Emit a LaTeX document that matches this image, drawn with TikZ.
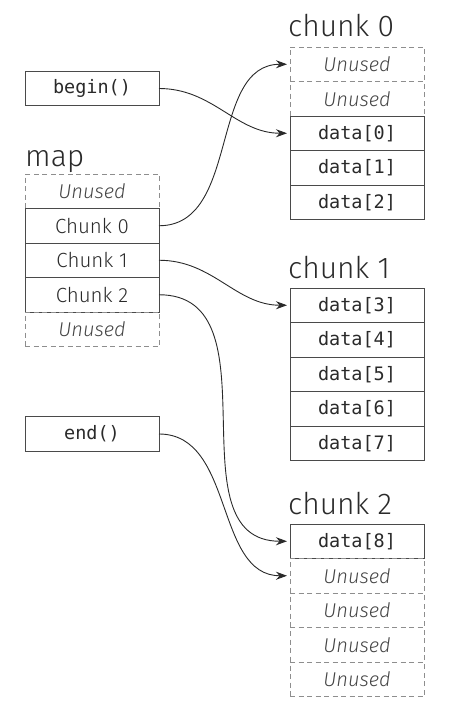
\documentclass[tikz,border=0pt]{standalone}
\usepackage{fontspec}
\setmainfont{Fira Sans}[UprightFont={* Light},ItalicFont={* Light Italic}]
\setmonofont{DejaVu Sans Mono}
\usepackage{xcolor}
\usetikzlibrary{positioning,arrows.meta}
\definecolor{ink}{HTML}{2A2A2A}
\definecolor{boxgray}{HTML}{4A4A4A}
\definecolor{dashgray}{HTML}{8E8E8E}
\definecolor{softgray}{HTML}{444444}

\begin{document}
\begin{tikzpicture}[x=1pt, y=-1pt,
    cell/.style={draw=boxgray, line width=0.9pt, minimum width=134pt, minimum height=34.5pt, inner sep=0pt, outer sep=0pt, text=ink},
    free/.style={cell, draw=dashgray, dash pattern=on 5pt off 3.5pt, text=softgray, font=\fontsize{20}{20}\selectfont\itshape},
    mem/.style={cell, font=\fontsize{18.5}{18.5}\selectfont\ttfamily},
    slot/.style={cell, font=\fontsize{20.5}{20.5}\selectfont},
    title/.style={anchor=base west, inner sep=0pt, text=ink, font=\fontsize{30}{30}\selectfont},
    ptr/.style={-{Stealth[length=11pt,width=8pt]}, line width=0.9pt, draw=ink, shorten >=3pt}]
    \useasboundingbox (0,0) rectangle (451,709);

    % iterators
    \node [mem] (B) at (92,88.5) {begin()};
    \node [mem] (E) at (92,434) {end()};

    % map
    \node [title] (M) at (25,166) {map};
    \node [free, anchor=north] (M0) at (92,174) {Unused};
    \node [slot, below=0pt of M0] (M1) {Chunk 0};
    \node [slot, below=0pt of M1] (M2) {Chunk 1};
    \node [slot, below=0pt of M2] (M3) {Chunk 2};
    \node [free, below=0pt of M3] (M4) {Unused};

    % chunk 0
    \node [title] (X) at (288,37) {chunk 0};
    \node [free, anchor=north] (X0) at (357,47) {Unused};
    \node [free, below=0pt of X0] (X1) {Unused};
    \node [mem, below=0pt of X1] (X2) {data[0]};
    \node [mem, below=0pt of X2] (X3) {data[1]};
    \node [mem, below=0pt of X3] (X4) {data[2]};

    % chunk 1
    \node [title] (Y) at (288,278) {chunk 1};
    \node [mem, anchor=north] (Y0) at (357,288) {data[3]};
    \node [mem, below=0pt of Y0] (Y1) {data[4]};
    \node [mem, below=0pt of Y1] (Y2) {data[5]};
    \node [mem, below=0pt of Y2] (Y3) {data[6]};
    \node [mem, below=0pt of Y3] (Y4) {data[7]};

    % chunk 2
    \node [title] (Z) at (288,514) {chunk 2};
    \node [mem, anchor=north] (Z0) at (357,524) {data[8]};
    \node [free, below=0pt of Z0] (Z1) {Unused};
    \node [free, below=0pt of Z1] (Z2) {Unused};
    \node [free, below=0pt of Z2] (Z3) {Unused};
    \node [free, below=0pt of Z3] (Z4) {Unused};

    \draw [ptr] (B) to[out=0,in=180] (X2);
    \draw [ptr] (M1) to[out=0,in=180] (X0);
    \draw [ptr] (M2) to[out=0,in=180] (Y0);
    \draw [ptr] (M3) to[out=0,in=180,looseness=1.1] (Z0);
    \draw [ptr] (E) to[out=0,in=180] (Z1);
\end{tikzpicture}
\end{document}
